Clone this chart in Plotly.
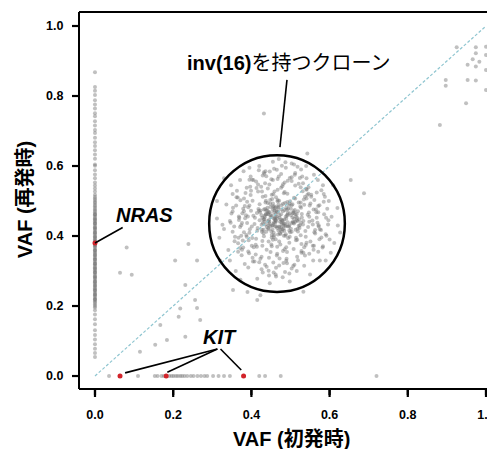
import plotly.graph_objects as go

# ---------------- data ----------------
# cloud of inv(16) clone variants (VAF at diagnosis, VAF at relapse)
cloud_x = [
    0.472,0.431,0.508,0.455,0.389,0.526,0.467,0.414,0.493,0.548,
    0.441,0.485,0.402,0.537,0.461,0.379,0.512,0.449,0.566,0.427,
    0.498,0.456,0.421,0.532,0.474,0.395,0.551,0.437,0.503,0.462,
    0.518,0.446,0.383,0.479,0.541,0.428,0.491,0.368,0.457,0.575,
    0.433,0.509,0.465,0.398,0.556,0.482,0.412,0.527,0.448,0.489,
    0.469,0.425,0.544,0.387,0.501,0.459,0.535,0.408,0.476,0.522,
    0.452,0.391,0.496,0.437,0.563,0.483,0.419,0.514,0.371,0.466,
    0.531,0.444,0.505,0.406,0.473,0.549,0.429,0.488,0.395,0.458,
    0.485,0.416,0.572,0.453,0.521,0.381,0.497,0.442,0.538,0.463,
    0.411,0.477,0.528,0.435,0.399,0.507,0.461,0.553,0.426,0.492,
    0.448,0.516,0.374,0.481,0.438,0.545,0.464,0.403,0.529,0.471,
    0.503,0.432,0.467,0.559,0.415,0.489,0.386,0.524,0.451,0.497,
    0.458,0.539,0.421,0.478,0.393,0.512,0.446,0.567,0.434,0.482,
    0.525,0.409,0.494,0.455,0.543,0.377,0.469,0.427,0.508,0.444,
    0.476,0.533,0.439,0.401,0.485,0.458,0.519,0.413,0.571,0.462,
    0.497,0.423,0.548,0.466,0.389,0.514,0.436,0.479,0.529,0.452,
    0.417,0.487,0.455,0.561,0.443,0.501,0.396,0.534,0.472,0.428,
    0.539,0.462,0.384,0.493,0.449,0.557,0.418,0.481,0.506,0.436,
    0.468,0.513,0.431,0.376,0.526,0.459,0.491,0.405,0.547,0.474,
    0.442,0.499,0.563,0.422,0.484,0.535,0.452,0.392,0.517,0.465,
    0.461,0.482,0.447,0.503,0.469,0.438,0.491,0.455,0.517,0.476,
    0.452,0.498,0.433,0.486,0.464,0.509,0.441,0.473,0.527,0.458,
    0.488,0.444,0.471,0.512,0.436,0.479,0.457,0.494,0.426,0.466,
    0.505,0.449,0.484,0.431,0.468,0.521,0.453,0.477,0.443,0.499,
    0.462,0.516,0.439,0.481,0.456,0.492,0.428,0.474,0.508,0.446,
    0.487,0.459,0.434,0.501,0.467,0.445,0.519,0.478,0.451,0.496,
    0.437,0.483,0.463,0.511,0.448,0.472,0.429,0.489,0.457,0.523,
    0.442,0.475,0.506,0.454,0.485,0.432,0.468,0.514,0.449,0.493,
    0.476,0.441,0.503,0.459,0.427,0.487,0.465,0.518,0.452,0.481,
    0.435,0.497,0.461,0.479,0.444,0.509,0.471,0.455,0.492,0.466,
    0.352,0.368,0.361,0.374,0.345,0.358,0.381,0.366,0.349,0.372,
    0.578,0.586,0.569,0.592,0.574,0.561,0.583,0.597,0.572,0.565,
    0.412,0.438,0.467,0.493,0.521,0.447,0.476,0.503,0.429,0.458,
    0.408,0.435,0.463,0.491,0.519,0.444,0.472,0.507,0.426,0.486,
    0.385,0.397,0.541,0.553,0.392,0.379,0.548,0.559,0.403,0.537,
    0.381,0.394,0.546,0.557,0.388,0.404,0.541,0.532,0.399,0.551,
    0.362,0.378,0.371,0.356,0.585,0.574,0.579,0.591,0.367,0.582,
    0.417,0.451,0.485,0.512,0.433,0.498,0.465,0.526,0.402,0.541,
    0.423,0.456,0.489,0.517,0.439,0.471,0.503,0.528,0.411,0.482,
    0.347,0.596,0.363,0.588,0.376,0.571,0.353,0.579,0.369,0.567,
    0.395,0.528,0.414,0.511,0.388,0.546,0.401,0.533,0.419,0.524,
    0.432,0.497,0.445,0.509,0.457,0.478,0.426,0.518,0.463,0.487,
    0.330,0.352,0.318,0.365,0.341,0.312,0.357,0.336,0.326,0.348,
    0.590,0.605,0.612,0.598,0.621,0.585,0.603,0.594,0.627,0.609,
    0.420,0.455,0.488,0.512,0.398,0.541,0.470,0.436,0.503,0.527,
    0.415,0.447,0.480,0.516,0.392,0.462,0.535,0.429,0.498,0.558,
    0.371,0.383,0.560,0.575,0.352,0.366,0.583,0.571,0.345,0.590,
    0.312,0.620,0.360,0.570,0.395,0.540,0.330,0.600,0.380,0.550,
    0.420,0.510,0.445,0.490,0.375,0.560,0.405,0.530,0.470,0.455,
]
cloud_y = [
    0.452,0.418,0.471,0.389,0.437,0.402,0.503,0.466,0.428,0.455,
    0.481,0.362,0.394,0.512,0.427,0.478,0.441,0.354,0.468,0.527,
    0.398,0.519,0.445,0.433,0.376,0.409,0.493,0.501,0.557,0.462,
    0.421,0.436,0.486,0.542,0.381,0.372,0.475,0.446,0.409,0.419,
    0.447,0.509,0.344,0.517,0.444,0.431,0.392,0.481,0.492,0.368,
    0.416,0.541,0.461,0.403,0.459,0.479,0.368,0.434,0.538,0.447,
    0.396,0.456,0.427,0.462,0.407,0.522,0.472,0.395,0.426,0.349,
    0.528,0.384,0.453,0.368,0.441,0.487,0.512,0.405,0.487,0.467,
    0.474,0.423,0.431,0.429,0.496,0.411,0.381,0.536,0.414,0.511,
    0.375,0.488,0.377,0.551,0.472,0.438,0.438,0.512,0.432,0.521,
    0.503,0.463,0.401,0.357,0.473,0.426,0.456,0.501,0.453,0.384,
    0.412,0.399,0.532,0.476,0.415,0.449,0.459,0.431,0.376,0.493,
    0.439,0.398,0.491,0.413,0.388,0.507,0.547,0.452,0.453,0.436,
    0.484,0.452,0.394,0.493,0.517,0.465,0.481,0.418,0.363,0.431,
    0.462,0.443,0.361,0.427,0.526,0.402,0.413,0.537,0.486,0.445,
    0.431,0.473,0.441,0.369,0.498,0.388,0.496,0.419,0.463,0.518,
    0.527,0.401,0.476,0.411,0.422,0.478,0.419,0.504,0.426,0.386,
    0.374,0.391,0.451,0.466,0.459,0.433,0.477,0.548,0.441,0.514,
    0.483,0.418,0.408,0.437,0.496,0.527,0.354,0.458,0.467,0.406,
    0.443,0.499,0.417,0.467,0.447,0.489,0.371,0.482,0.389,0.472,
    0.446,0.421,0.468,0.437,0.489,0.412,0.458,0.431,0.452,0.476,
    0.403,0.465,0.441,0.494,0.427,0.449,0.472,0.408,0.438,0.485,
    0.456,0.419,0.501,0.462,0.433,0.444,0.397,0.478,0.459,0.423,
    0.491,0.454,0.415,0.448,0.468,0.429,0.506,0.439,0.463,0.411,
    0.482,0.445,0.426,0.471,0.435,0.497,0.452,0.417,0.466,0.441,
    0.428,0.473,0.457,0.421,0.499,0.446,0.471,0.434,0.413,0.487,
    0.462,0.401,0.442,0.474,0.428,0.459,0.437,0.481,0.451,0.423,
    0.494,0.447,0.466,0.418,0.436,0.476,0.404,0.455,0.483,0.439,
    0.424,0.463,0.488,0.449,0.412,0.431,0.469,0.443,0.458,0.492,
    0.477,0.416,0.453,0.445,0.468,0.436,0.427,0.484,0.461,0.451,
    0.412,0.456,0.487,0.431,0.443,0.398,0.471,0.379,0.464,0.502,
    0.417,0.462,0.438,0.401,0.488,0.503,0.371,0.445,0.427,0.476,
    0.556,0.571,0.563,0.558,0.549,0.584,0.577,0.568,0.573,0.592,
    0.327,0.318,0.309,0.322,0.331,0.301,0.336,0.314,0.341,0.297,
    0.523,0.541,0.532,0.518,0.356,0.367,0.349,0.361,0.338,0.344,
    0.507,0.351,0.521,0.372,0.538,0.327,0.507,0.551,0.529,0.384,
    0.511,0.387,0.366,0.427,0.498,0.391,0.531,0.452,0.395,0.367,
    0.547,0.562,0.553,0.544,0.578,0.566,0.589,0.539,0.561,0.534,
    0.335,0.324,0.329,0.341,0.312,0.316,0.307,0.352,0.347,0.323,
    0.438,0.433,0.529,0.512,0.361,0.468,0.481,0.396,0.452,0.524,
    0.561,0.357,0.369,0.575,0.398,0.539,0.372,0.352,0.588,0.566,
    0.582,0.293,0.287,0.604,0.296,0.601,0.305,0.598,0.284,0.611,
    0.420,0.470,0.395,0.510,0.360,0.450,0.385,0.490,0.432,0.545,
    0.405,0.455,0.380,0.500,0.430,0.520,0.352,0.478,0.410,0.545,
    0.600,0.612,0.595,0.580,0.570,0.565,0.620,0.585,0.607,0.590,
    0.278,0.265,0.282,0.300,0.310,0.290,0.315,0.296,0.270,0.330,
    0.560,0.320,0.575,0.330,0.520,0.355,0.545,0.355,0.330,0.330,
    0.500,0.480,0.300,0.560,0.595,0.600,0.565,0.390,0.585,0.290,
    0.325,0.318,0.338,0.335,0.345,0.372,0.560,0.570,0.570,0.560,
]

# scattered variants outside the clone
sparse_x = [0.925,0.974,1.0,0.974,1.0,0.966,0.983,0.953,0.974,1.0,
            0.897,0.897,0.953,0.974,1.0,0.949,0.882,0.654,0.688,0.543,
            0.432,0.081,0.064,0.094,0.205,0.239,0.261,0.231,0.218,0.214,
            0.256,0.184,0.231,0.154,0.115,0.167,0.269,0.261,0.415,0.423,
            0.533,0.353,0.390,0.320,0.372]
sparse_y = [0.939,0.939,0.941,0.922,0.917,0.905,0.898,0.889,0.884,0.874,
            0.846,0.829,0.846,0.844,0.817,0.779,0.717,0.560,0.522,0.636,
            0.750,0.367,0.295,0.289,0.330,0.377,0.330,0.260,0.193,0.169,
            0.217,0.103,0.112,0.089,0.069,0.146,0.160,0.194,0.217,0.231,
            0.241,0.246,0.240,0.330,0.275]

# variants absent at diagnosis (VAF at diagnosis = 0)
column_y = [0.868,0.826,0.815,0.803,0.788,0.776,0.764,0.751,0.742,0.728,
            0.716,0.703,0.694,0.681,0.668,0.657,0.645,0.633,0.621,0.604,
            0.601,0.588,0.576,0.565,0.553,0.544,0.536,0.527,
            0.518,0.512,0.507,0.503,0.498,0.494,0.489,0.485,0.481,0.476,
            0.472,0.468,0.463,0.459,0.455,0.451,0.446,0.442,0.438,0.434,
            0.429,0.425,0.421,0.417,0.412,0.408,0.404,0.399,0.395,0.391,
            0.387,0.383,0.378,0.374,0.370,0.366,0.361,0.357,0.353,0.349,
            0.344,0.340,0.336,0.332,0.327,0.323,0.319,0.315,0.311,0.306,
            0.302,0.298,0.294,0.289,0.285,0.281,0.277,0.272,0.268,0.264,
            0.260,0.255,0.251,0.247,0.243,0.238,0.234,0.230,0.226,0.221,
            0.217,0.213,0.209,0.204,0.200,0.196,
            0.462,0.448,0.436,0.423,0.410,0.397,0.385,0.372,0.359,0.346,
            0.333,0.321,0.308,0.296,0.283,0.270,0.258,0.245,0.232,0.219,
            0.188,0.176,0.162,0.148,0.131,0.117,0.104,0.091,0.078,0.066,0.054]

# variants lost at relapse (VAF at relapse = 0)
row_x = [0.036,0.110,0.153,0.160,0.170,0.176,0.190,0.196,0.201,0.207,
         0.212,0.218,0.223,0.229,0.236,0.245,0.252,0.262,0.271,0.280,
         0.287,0.302,0.316,0.330,0.345,0.420,0.435,0.475,0.720]

# highlighted driver mutations
nras_x, nras_y = [0.0], [0.38]
kit_x = [0.064, 0.182, 0.380]
kit_y = [0.0, 0.0, 0.0]

x_ticks = [0.0, 0.2, 0.4, 0.6, 0.8, 1.0]
y_ticks = [0.0, 0.2, 0.4, 0.6, 0.8, 1.0]
tick_labels = ["0.0", "0.2", "0.4", "0.6", "0.8", "1.0"]
x_title = "VAF (初発時)"
y_title = "VAF (再発時)"

# ---------------- figure ----------------
FONT = "Liberation Sans, Arial, Noto Sans CJK JP, sans-serif"
gray = dict(color="rgba(115,115,115,0.45)", size=4, line=dict(width=0))
PLOT_W, PLOT_H = 416, 377
X_RANGE = [-0.0409, 1.023]
Y_RANGE = [-0.0371, 1.04]

fig = go.Figure()
for xs, ys in [(cloud_x, cloud_y), (sparse_x, sparse_y),
               ([0.0] * len(column_y), column_y), (row_x, [0.0] * len(row_x))]:
    fig.add_trace(go.Scatter(x=xs, y=ys, mode="markers", marker=gray,
                             hoverinfo="skip", cliponaxis=False))
fig.add_trace(go.Scatter(x=nras_x + kit_x, y=nras_y + kit_y, mode="markers",
                         marker=dict(color="#d2232a", size=5), hoverinfo="skip",
                         cliponaxis=False))

# identity line
fig.add_shape(type="line", x0=0, y0=0, x1=1, y1=1, xref="x", yref="y",
              line=dict(color="#8ec5d0", width=1.2, dash="3px,2px"), layer="above")
# clone circle
fig.add_shape(type="circle", x0=0.292, x1=0.639, y0=0.240, y1=0.631, xref="x", yref="y",
              line=dict(color="black", width=2.5), layer="above")
# inv(16) pointer
fig.add_shape(type="line", x0=0.491, y0=0.846, x1=0.473, y1=0.654, xref="x", yref="y",
              line=dict(color="black", width=1.6))
# KIT pointers
kit_hub_x, kit_hub_y = 0.313, 0.077
for kx, ky, dx, dy in zip(kit_x, kit_y, [0.013, 0.003, -0.006], [0.009, 0.011, 0.017]):
    hx = kit_hub_x if kx < 0.3 else kit_hub_x + 0.008
    fig.add_shape(type="line", x0=kx + dx, y0=ky + dy, x1=hx, y1=kit_hub_y, xref="x", yref="y",
                  line=dict(color="black", width=1.6))

# frame (top border and axis lines)
fig.add_shape(type="line", x0=0, x1=1, y0=1, y1=1, xref="paper", yref="paper",
              line=dict(color="black", width=2))
fig.add_shape(type="line", x0=0, x1=0, y0=0, y1=1, xref="paper", yref="paper",
              line=dict(color="black", width=2))
fig.add_shape(type="line", x0=0, x1=1, y0=0, y1=0, xref="paper", yref="paper",
              line=dict(color="black", width=2))

# tick marks: paper-referenced shapes plus annotation arrows (both unclipped)
tick_style = dict(text=" ", showarrow=True, arrowhead=0, arrowwidth=2.2, arrowcolor="black",
                  standoff=0, startstandoff=0, font=dict(size=1))
for t in x_ticks:
    px = (t - X_RANGE[0]) / (X_RANGE[1] - X_RANGE[0])
    fig.add_shape(type="line", x0=px, x1=px, y0=0, y1=-8 / PLOT_H, xref="paper", yref="paper",
                  line=dict(color="black", width=2.2))
    fig.add_annotation(x=px, y=0, xref="paper", yref="paper", ax=0, ay=8, **tick_style)
for t in y_ticks:
    py = (t - Y_RANGE[0]) / (Y_RANGE[1] - Y_RANGE[0])
    fig.add_shape(type="line", x0=0, x1=-7 / PLOT_W, y0=py, y1=py, xref="paper", yref="paper",
                  line=dict(color="black", width=2.2))
    fig.add_annotation(x=0, y=py, xref="paper", yref="paper", ax=-7, ay=0, **tick_style)

fig.add_annotation(x=0.494, y=0.894, xref="x", yref="y", showarrow=False,
                   text="<b>inv(16)</b>を持つクローン",
                   font=dict(family=FONT, size=20, color="black"))
fig.add_annotation(x=nras_x[0], y=nras_y[0], xref="x", yref="y", text="<b><i>NRAS</i></b>",
                   showarrow=True, arrowhead=0, arrowwidth=1.6, arrowcolor="black",
                   ax=50, ay=-28, standoff=0, startstandoff=0,
                   font=dict(family=FONT, size=20, color="black"))
fig.add_annotation(x=0.320, y=0.111, xref="x", yref="y", showarrow=False,
                   text="<b><i>KIT</i></b>", font=dict(family=FONT, size=20, color="black"))

# axis titles
fig.add_annotation(x=0.512, y=-0.1326, xref="paper", yref="paper", showarrow=False,
                   text="<b>" + x_title + "</b>", yanchor="middle",
                   font=dict(family=FONT, size=20, color="black"))
fig.add_annotation(x=-0.1298, y=0.501, xref="paper", yref="paper", showarrow=False,
                   text="<b>" + y_title + "</b>", textangle=-90, xanchor="center", yanchor="middle",
                   font=dict(family=FONT, size=20, color="black"))

bold_ticks = ["<b>" + t + "</b>" for t in tick_labels]
axis_common = dict(showgrid=False, zeroline=False, showline=False,
                   ticks="outside", tickcolor="rgba(0,0,0,0)",
                   tickfont=dict(family=FONT, size=12.5, color="black"))
fig.update_xaxes(range=X_RANGE, tickvals=x_ticks, ticktext=bold_ticks,
                 ticklen=14, **axis_common)
fig.update_yaxes(range=Y_RANGE, tickvals=y_ticks, ticktext=bold_ticks,
                 ticklen=12, **axis_common)

# page body adds an 8px margin, so the figure is sized to end at the window edge
fig.update_layout(width=487, height=441, margin=dict(l=71, r=0, t=4, b=60, autoexpand=False),
                  plot_bgcolor="white", paper_bgcolor="white", showlegend=False,
                  font=dict(family=FONT))

fig.write_html("out.html")
